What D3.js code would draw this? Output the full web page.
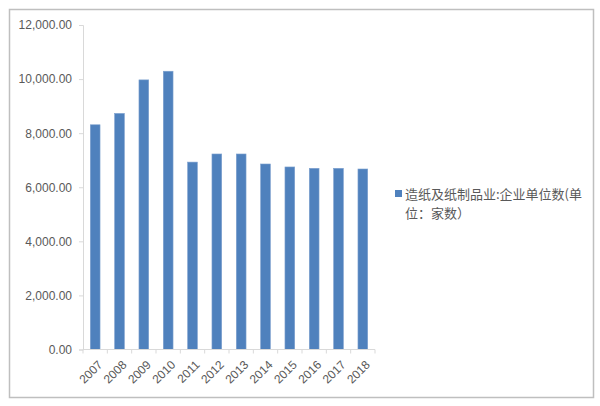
<!DOCTYPE html>
<html>
<head>
<meta charset="utf-8">
<script src="https://cdn.jsdelivr.net/npm/d3@7"></script>
<style>
  body { margin: 0; background: #fff; }
  svg { font-family: "Liberation Sans", Arial, sans-serif; }
</style>
</head>
<body>
<div id="chart"></div>
<script>
const years = ['2007', '2008', '2009', '2010', '2011', '2012', '2013', '2014', '2015', '2016', '2017', '2018']
const counts = [8310, 8730, 9970, 10290, 6930, 7230, 7230, 6860, 6750, 6700, 6700, 6675]
const yTicks = [0, 2000, 4000, 6000, 8000, 10000, 12000]
const legendLines = ['造纸及纸制品业:企业单位数(单', '位：家数）']

const width = 600, height = 406
const svg = d3.select('#chart')
    .append('svg')
    .attr('width', width)
    .attr('height', height)

// outer frame
svg.append('rect')
    .attr('x', 9.5).attr('y', 9.5)
    .attr('width', 584).attr('height', 388)
    .attr('fill', 'none')
    .attr('stroke', '#bfbfbf')
    .attr('stroke-width', 1.5)

const x = d3.scaleBand().domain(years).range([83, 375]).paddingInner(0.6).paddingOuter(0.3)
const y = d3.scaleLinear().domain([0, 12000]).range([349.5, 25])

const data = years.map((yr, i) => ({ year: yr, value: counts[i] }))

svg.selectAll('rect.bar')
    .data(data)
    .enter()
    .append('rect')
    .attr('class', 'bar')
    .attr('x', d => x(d.year))
    .attr('y', d => y(d.value))
    .attr('width', x.bandwidth())
    .attr('height', d => y(0) - y(d.value))
    .attr('fill', '#4f81bd')
    .attr('stroke', '#7da1cf')
    .attr('stroke-width', 0.6)

// y axis
const yAxis = d3.axisLeft(y)
    .tickValues(yTicks)
    .tickFormat(d3.format(',.2f'))
    .tickSize(4)
    .tickPadding(7)
const gy = svg.append('g')
    .attr('transform', 'translate(83,0)')
    .call(yAxis)
gy.select('.domain').attr('stroke', '#d9d9d9')
gy.selectAll('.tick line').attr('stroke', '#d9d9d9')
gy.selectAll('.tick text')
    .attr('fill', '#595959')
    .attr('font-size', 12)

// x axis: ticks at category boundaries
const gx = svg.append('g')
    .attr('transform', `translate(0,${y(0)})`)
gx.append('line')
    .attr('x1', 83).attr('x2', 375)
    .attr('stroke', '#d9d9d9')
gx.selectAll('line.tk')
    .data(d3.range(years.length + 1))
    .enter()
    .append('line')
    .attr('class', 'tk')
    .attr('x1', i => 83 + i * (292 / years.length))
    .attr('x2', i => 83 + i * (292 / years.length))
    .attr('y1', 0).attr('y2', 4)
    .attr('stroke', '#d9d9d9')
gx.selectAll('text')
    .data(years)
    .enter()
    .append('text')
    .attr('transform', d => `translate(${x(d) + x.bandwidth() / 2 + 5},${13}) rotate(-45)`)
    .attr('text-anchor', 'end')
    .attr('dy', '0.35em')
    .attr('fill', '#595959')
    .attr('font-size', 12)
    .text(d => d)

// legend
svg.append('rect')
    .attr('x', 395).attr('y', 190)
    .attr('width', 7).attr('height', 7)
    .attr('fill', '#4f81bd')
svg.selectAll('text.legend')
    .data(legendLines)
    .enter()
    .append('text')
    .attr('class', 'legend')
    .attr('x', 405)
    .attr('y', (d, i) => 199 + i * 19)
    .attr('fill', '#595959')
    .attr('font-size', 13)
    .attr('font-family', '"Noto Sans CJK SC", sans-serif')
    .text(d => d)
</script>
</body>
</html>
